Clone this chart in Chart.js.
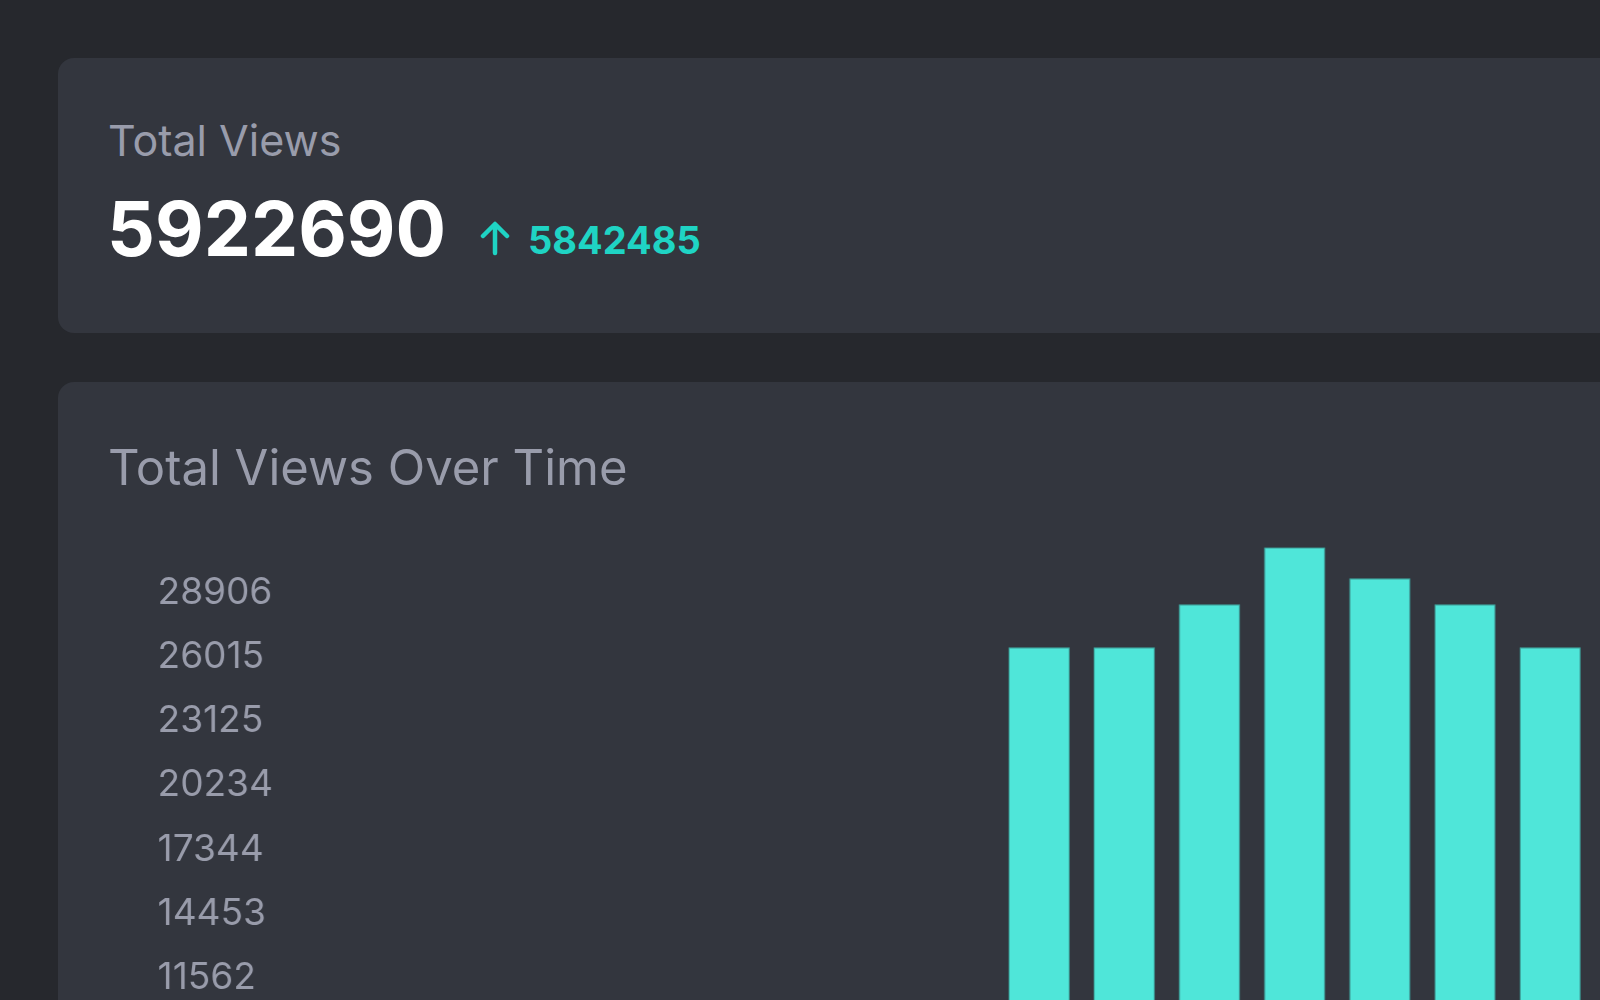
<!DOCTYPE html>
<html>
<head>
<meta charset="utf-8">
<script src="https://cdn.jsdelivr.net/npm/chart.js@4.4.1/dist/chart.umd.min.js"></script>
<style>
  html, body { margin: 0; padding: 0; width: 1600px; height: 1000px; overflow: hidden; background: #26282d; font-family: Inter, "Noto Sans", sans-serif; }
  .card { position: absolute; left: 58px; background: #33363e; border-radius: 16px; width: 1700px; }
  #card1 { top: 58px; height: 275px; }
  #card2 { top: 382px; height: 1000px; }
  .t { position: absolute; white-space: nowrap; line-height: 1; }
  #lbl { left: 108px; top: 119px; font-size: 43px; color: #999cab; }
  #big { left: 107px; top: 191px; font-size: 75px; font-weight: 700; color: #ffffff; }
  #delta { left: 528px; top: 221px; font-size: 38px; font-weight: 700; color: #1fd4c4; }
  #arrow { position: absolute; left: 478px; top: 220px; }
  #title { left: 108px; top: 443px; font-size: 49px; color: #999cab; }
  #wrap { position: absolute; left: 108px; top: 520px; width: 1483.7px; height: 740px; }
</style>
</head>
<body>
<div class="card" id="card1"></div>
<div class="card" id="card2"></div>
<div class="t" id="lbl"></div>
<div class="t" id="big"></div>
<svg id="arrow" width="34" height="36" viewBox="0 0 34 36">
  <path d="M17 33 V5 M5 16 L17 4 L29 16" fill="none" stroke="#1fd4c4" stroke-width="4.5" stroke-linecap="round" stroke-linejoin="round"/>
</svg>
<div class="t" id="delta"></div>
<div class="t" id="title"></div>
<div id="wrap"><canvas id="c"></canvas></div>
<script>
// ---- data ----
const cardLabel = "Total Views";
const totalViews = 5922690;
const deltaViews = 5842485;
const chartTitle = "Total Views Over Time";
const categories = ["Day 1","Day 2","Day 3","Day 4","Day 5","Day 6","Day 7","Day 8","Day 9","Day 10","Day 11","Day 12","Day 13","Day 14","Day 15"];
const viewsSeries = [0, 0, 0, 0, 0, 0, 0, 0, 26457, 26457, 28396, 30965, 29568, 28396, 26457];
const yTickValues = [0, 2891, 5781, 8672, 11562, 14453, 17344, 20234, 23125, 26015, 28906];

document.getElementById('lbl').textContent = cardLabel;
document.getElementById('big').textContent = String(totalViews);
document.getElementById('delta').textContent = String(deltaViews);
document.getElementById('title').textContent = chartTitle;

new Chart(document.getElementById('c'), {
  type: 'bar',
  data: {
    labels: categories,
    datasets: [{
      data: viewsSeries,
      backgroundColor: '#4fe6d9',
      borderColor: '#3da8a0',
      borderWidth: 1
    }]
  },
  options: {
    responsive: true,
    maintainAspectRatio: false,
    animation: false,
    layout: { padding: { left: 49.6, top: 27.3, bottom: 25.8, right: 0 } },
    plugins: { legend: { display: false }, tooltip: { enabled: false } },
    scales: {
      x: { display: false },
      y: {
        min: 0,
        max: Math.max(...viewsSeries),
        grid: { display: false },
        border: { display: false },
        afterBuildTicks: (s) => { s.ticks = yTickValues.map(v => ({ value: v })); },
        afterFit: (s) => { s.width = 157.6; },
        ticks: {
          autoSkip: false,
          crossAlign: 'far',
          color: '#999cab',
          font: { family: 'Inter', size: 37 },
          callback: (v) => String(Math.round(v))
        }
      }
    }
  }
});
</script>
</body>
</html>
